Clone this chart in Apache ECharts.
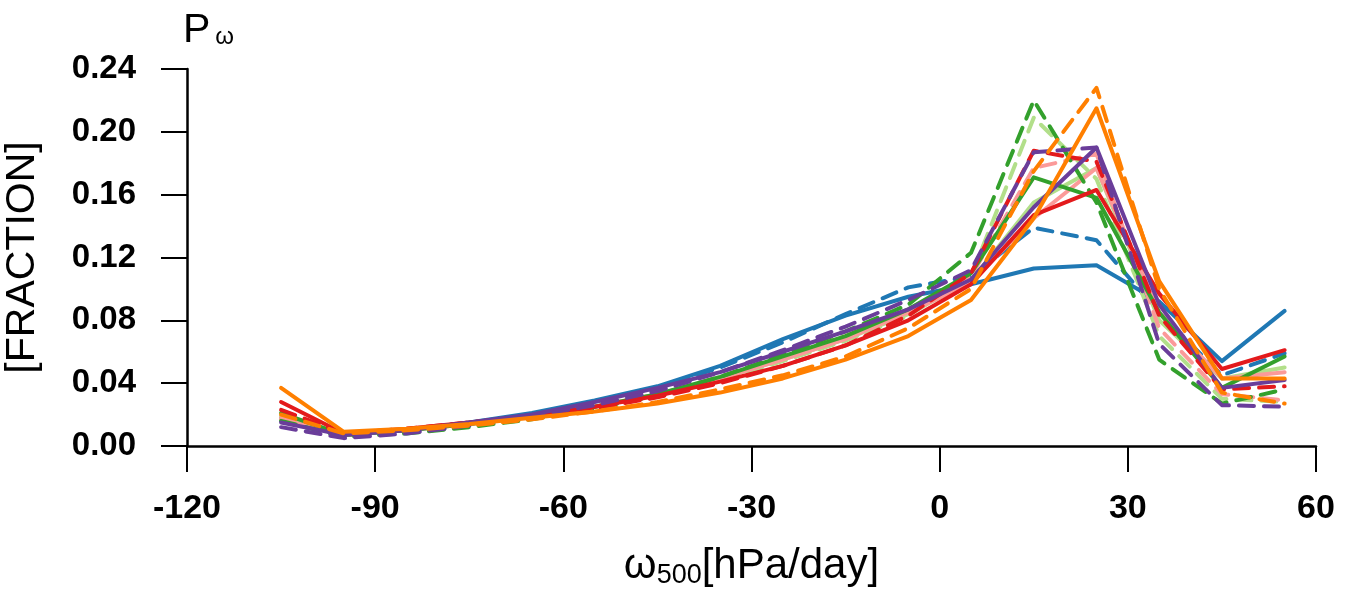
<!DOCTYPE html>
<html>
<head>
<meta charset="utf-8">
<script src="https://cdn.jsdelivr.net/npm/echarts@6/dist/echarts.min.js"></script>
<style>
html,body{margin:0;padding:0;background:#fff;}
#chart{width:1345px;height:593px;}
</style>
</head>
<body>
<div id="chart"></div>
<script>
// omega500 bin centres [hPa/day]
var omega = [-105,-95,-85,-75,-65,-55,-45,-35,-25,-15,-5,5,15,25,35,45,55];

var blueSolid    = [0.018,0.007,0.010,0.015,0.021,0.029,0.038,0.051,0.068,0.083,0.095,0.103,0.113,0.115,0.092,0.054,0.086];
var blueDash     = [0.016,0.006,0.009,0.014,0.020,0.028,0.037,0.050,0.066,0.084,0.101,0.108,0.139,0.131,0.085,0.045,0.059];
var orangeSolid  = [0.037,0.009,0.011,0.014,0.018,0.022,0.027,0.034,0.043,0.055,0.070,0.093,0.145,0.215,0.105,0.043,0.043];
var orangeDash   = [0.020,0.008,0.010,0.013,0.017,0.022,0.028,0.036,0.045,0.057,0.075,0.100,0.175,0.228,0.100,0.034,0.027];
var greenSolid   = [0.021,0.007,0.010,0.014,0.019,0.025,0.033,0.044,0.057,0.070,0.087,0.110,0.171,0.158,0.085,0.037,0.057];
var greenDash    = [0.016,0.006,0.008,0.012,0.017,0.024,0.032,0.044,0.058,0.073,0.090,0.123,0.220,0.155,0.055,0.027,0.036];
var redSolid     = [0.028,0.008,0.011,0.015,0.019,0.025,0.032,0.041,0.051,0.064,0.080,0.103,0.147,0.163,0.097,0.049,0.061];
var redDash      = [0.023,0.008,0.011,0.015,0.019,0.024,0.031,0.040,0.051,0.064,0.083,0.110,0.188,0.181,0.083,0.036,0.038];
var purpleSolid  = [0.015,0.007,0.010,0.015,0.020,0.028,0.037,0.047,0.060,0.073,0.087,0.106,0.152,0.190,0.090,0.037,0.042];
var purpleDash   = [0.012,0.005,0.008,0.013,0.019,0.026,0.035,0.047,0.061,0.076,0.093,0.112,0.187,0.190,0.065,0.026,0.025];
var lgreenSolid  = [0.019,0.007,0.010,0.014,0.019,0.025,0.033,0.043,0.055,0.068,0.084,0.105,0.155,0.177,0.080,0.043,0.050];
var lgreenDash   = [0.017,0.006,0.009,0.013,0.018,0.024,0.032,0.042,0.054,0.067,0.083,0.108,0.209,0.170,0.070,0.030,0.028];
var pinkSolid    = [0.017,0.007,0.010,0.014,0.019,0.025,0.033,0.043,0.055,0.068,0.085,0.104,0.145,0.177,0.085,0.043,0.047];
var pinkDash     = [0.018,0.007,0.010,0.014,0.019,0.025,0.033,0.044,0.057,0.070,0.087,0.108,0.177,0.186,0.075,0.033,0.029];

var seriesDefs = [
  ['blue solid',   blueSolid,   '#1f78b4', false],
  ['blue dash',    blueDash,    '#1f78b4', true],
  ['lgreen solid', lgreenSolid, '#b2df8a', false],
  ['lgreen dash',  lgreenDash,  '#b2df8a', true],
  ['pink solid',   pinkSolid,   '#fb9a99', false],
  ['pink dash',    pinkDash,    '#fb9a99', true],
  ['green solid',  greenSolid,  '#33a02c', false],
  ['green dash',   greenDash,   '#33a02c', true],
  ['red solid',    redSolid,    '#e31a1c', false],
  ['red dash',     redDash,     '#e31a1c', true],
  ['purple solid', purpleSolid, '#6a3d9a', false],
  ['purple dash',  purpleDash,  '#6a3d9a', true],
  ['orange solid', orangeSolid, '#ff7f00', false],
  ['orange dash',  orangeDash,  '#ff7f00', true]
];

var FONT = '"Liberation Sans", Arial, Helvetica, sans-serif';

var series = seriesDefs.map(function (d) {
  return {
    name: d[0],
    type: 'line',
    data: omega.map(function (x, i) { return [x, d[1][i]]; }),
    showSymbol: false,
    symbol: 'none',
    lineStyle: { color: d[2], width: 4, type: d[3] ? [15, 10] : 'solid', cap: 'round', join: 'round' },
    itemStyle: { color: d[2] },
    z: 2
  };
});

var chart = echarts.init(document.getElementById('chart'), null, { renderer: 'canvas' });
chart.setOption({
  animation: false,
  backgroundColor: '#ffffff',
  grid: { left: 187, right: 29, top: 69, bottom: 147, containLabel: false, outerBoundsMode: 'none' },
  xAxis: {
    type: 'value',
    min: -120, max: 60, interval: 30,
    splitLine: { show: false },
    axisLine: { show: true, onZero: false, lineStyle: { color: '#000', width: 2.5 } },
    axisTick: { show: true, length: 26, lineStyle: { color: '#000', width: 2 } },
    axisLabel: { color: '#000', fontSize: 34, fontWeight: 'bold', fontFamily: FONT, margin: 46 },
    name: '{w|ω}{s|500}{n|[hPa/day]}',
    nameLocation: 'middle',
    nameGap: 98,
    nameTextStyle: {
      rich: {
        w: { fontSize: 42, fontFamily: FONT, color: '#000' },
        s: { fontSize: 27, fontFamily: FONT, color: '#000', padding: [18, 0, 0, 0] },
        n: { fontSize: 42, fontFamily: FONT, color: '#000' }
      }
    }
  },
  yAxis: {
    type: 'value',
    min: 0, max: 0.24, interval: 0.04,
    splitLine: { show: false },
    axisLine: { show: true, onZero: false, lineStyle: { color: '#000', width: 2.5 } },
    axisTick: { show: true, length: 26, lineStyle: { color: '#000', width: 2 } },
    axisLabel: {
      color: '#000', fontSize: 33, fontWeight: 'bold', fontFamily: FONT, margin: 51,
      formatter: function (v) { return v.toFixed(2); }
    },
    name: '[FRACTION]',
    nameLocation: 'middle',
    nameRotate: 90,
    nameGap: 144,
    nameTextStyle: { fontSize: 41, fontFamily: FONT, color: '#000' }
  },
  graphic: [{
    type: 'text',
    left: 183,
    top: 10,
    style: {
      text: '{p|P}{w|ω}',
      rich: {
        p: { fontSize: 41, fontFamily: FONT, fill: '#000', color: '#000' },
        w: { fontSize: 24, fontFamily: FONT, fill: '#000', color: '#000', padding: [14, 0, 0, 5] }
      }
    }
  }],
  series: series
});
</script>
</body>
</html>
